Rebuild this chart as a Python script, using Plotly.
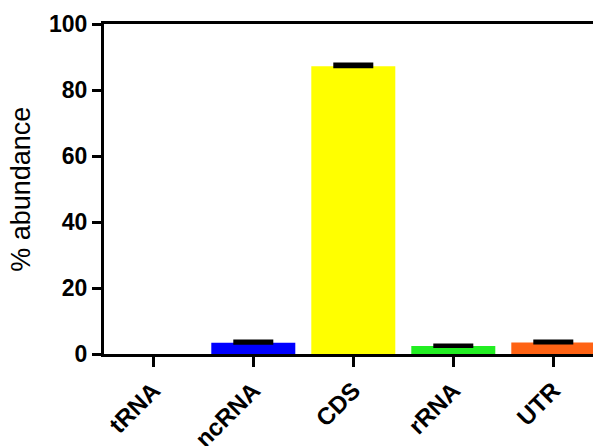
import plotly.graph_objects as go

categories = ["tRNA", "ncRNA", "CDS", "rRNA", "UTR"]
abundance = [0.0, 3.4, 87.2, 2.4, 3.5]
error_up = [0.0, 0.4, 0.5, 0.2, 0.3]
bar_colors = ["#FFFFFF", "#0000FF", "#FFFF00", "#22EE22", "#FF6314"]
y_ticks = [0, 20, 40, 60, 80, 100]

fig = go.Figure()
fig.add_trace(go.Bar(
    x=categories,
    y=abundance,
    width=0.84,
    marker=dict(color=bar_colors, line=dict(width=0)),
    showlegend=False,
    hoverinfo="x+y",
))

# error bars only where an error exists
err_idx = [i for i, e in enumerate(error_up) if e > 0]
fig.add_trace(go.Scatter(
    x=[categories[i] for i in err_idx],
    y=[abundance[i] for i in err_idx],
    mode="markers",
    marker=dict(opacity=0, size=1),
    error_y=dict(type="data", array=[error_up[i] for i in err_idx],
                 symmetric=False, arrayminus=[0] * len(err_idx),
                 color="black", thickness=4, width=20),
    showlegend=False,
    hoverinfo="skip",
))

font_family = "Liberation Sans, Arial, sans-serif"
fig.update_layout(
    width=593, height=446,
    margin=dict(l=104, r=0, t=24, b=92),
    paper_bgcolor="white", plot_bgcolor="white",
    font=dict(family=font_family, color="black"),
    xaxis=dict(
        range=[-0.493, 4.397], automargin=False,
        categoryorder="array", categoryarray=categories,
        showline=True, linecolor="black", linewidth=3, mirror=True,
        ticks="outside", ticklen=10, tickwidth=3, tickcolor="black",
        tickangle=-45,
        tickfont=dict(family=font_family, size=24, color="black", weight="bold"),
        showgrid=False, zeroline=False,
    ),
    yaxis=dict(
        range=[0, 100], automargin=False,
        tickvals=y_ticks,
        showline=True, linecolor="black", linewidth=3,
        ticks="outside", ticklen=9, tickwidth=3, tickcolor="black",
        tickfont=dict(family=font_family, size=23, color="black", weight="bold"),
        showgrid=False, zeroline=False,
    ),
    annotations=[dict(
        text="% abundance", textangle=-90,
        xref="paper", yref="paper", x=-0.17, y=0.5,
        xanchor="center", yanchor="middle", showarrow=False,
        font=dict(family=font_family, size=27, color="black"),
    )],
)

fig.write_html("out.html", config={"displayModeBar": False},
               post_script="document.body.style.margin='0';")
